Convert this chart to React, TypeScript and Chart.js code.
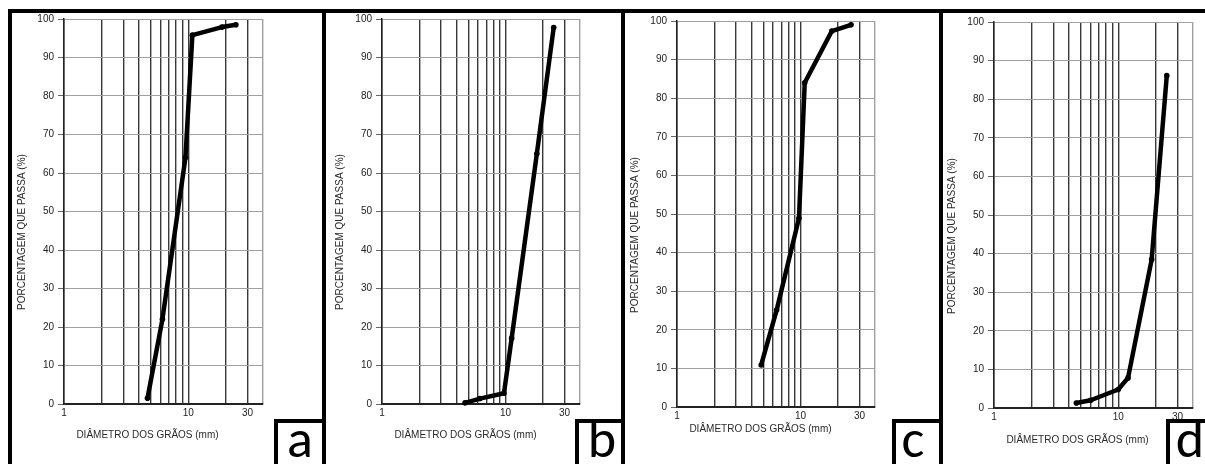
import React, { useEffect, useRef } from "react";
import { Chart, registerables } from "chart.js";

Chart.register(...registerables);

// ---- data ----
const sizesA = [4.7, 6.2, 9.5, 10.8, 18.7, 24.2];
const passA = [1.5, 22, 64, 95.8, 97.9, 98.5];
const sizesB = [4.7, 6.2, 9.7, 11.2, 17.9, 24.5];
const passB = [0.3, 1.4, 2.8, 17.1, 65, 97.8];
const sizesC = [4.8, 6.4, 9.7, 10.8, 17.9, 25.6];
const passC = [10.9, 25.1, 48.9, 84, 97.4, 99];
const sizesD = [4.6, 6.0, 10, 12, 18.6, 24.6];
const passD = [1.3, 2, 4.8, 7.8, 38.5, 86.1];

const xGridValues = [1, 2, 3, 4, 5, 6, 7, 8, 9, 10, 20, 30, 40];
const xLabelValues = [1, 10, 30];
const xMin = 1;
const xMax = 40;
const yMin = 0;
const yMax = 100;
const yStep = 10;

const yTitle = "PORCENTAGEM QUE PASSA (%)";
const xTitle = "DIÂMETRO DOS GRÃOS (mm)";
const letters = ["a", "b", "c", "d"];

// ---- layout (page coordinates) ----
const CANVAS_TOP = 9;
const CANVAS_H = 455;
const Y_AXIS_W = 40;
const X_AXIS_H = 30;

type Panel = {
  sizes: number[];
  pass: number[];
  canvasLeft: number;
  canvasRight: number;
  area: { left: number; right: number; top: number; bottom: number };
  xTitleDy: number;
  box: { left: number; right: number };
  letterX: number;
};

const panels: Panel[] = [
  {
    sizes: sizesA,
    pass: passA,
    canvasLeft: 12,
    canvasRight: 322,
    area: { left: 64, right: 263, top: 17, bottom: 404 },
    xTitleDy: 31.5,
    box: { left: 274, right: 322 },
    letterX: 300,
  },
  {
    sizes: sizesB,
    pass: passB,
    canvasLeft: 326,
    canvasRight: 621,
    area: { left: 382, right: 580, top: 18, bottom: 404 },
    xTitleDy: 31.5,
    box: { left: 575, right: 621 },
    letterX: 602,
  },
  {
    sizes: sizesC,
    pass: passC,
    canvasLeft: 625,
    canvasRight: 939,
    area: { left: 677, right: 875, top: 21, bottom: 407 },
    xTitleDy: 22,
    box: { left: 892, right: 939 },
    letterX: 913,
  },
  {
    sizes: sizesD,
    pass: passD,
    canvasLeft: 943,
    canvasRight: 1205,
    area: { left: 994, right: 1193, top: 22, bottom: 408 },
    xTitleDy: 32,
    box: { left: 1166, right: 1205 },
    letterX: 1190,
  },
];

const dividers = [322, 621, 939];

const FONT_FAMILY = '"Liberation Sans", Arial, Helvetica, sans-serif';

const axisTitlesPlugin = {
  id: "axisTitles",
  afterDraw(chart: any, _args: any, opts: any) {
    const { ctx, chartArea } = chart;
    ctx.save();
    ctx.font = `10px ${FONT_FAMILY}`;
    ctx.fillStyle = "#2a2a2a";
    ctx.textAlign = "center";
    ctx.textBaseline = "middle";
    ctx.fillText(opts.xText, chartArea.left + opts.xDx, chartArea.bottom + opts.xDy);
    ctx.translate(chartArea.left + opts.yDx, chartArea.bottom - opts.yDy);
    ctx.rotate(-Math.PI / 2);
    ctx.fillText(opts.yText, 0, 0);
    ctx.restore();
  },
};

function GrainChart({ panel }: { panel: Panel }) {
  const ref = useRef<HTMLCanvasElement | null>(null);
  const width = panel.canvasRight - panel.canvasLeft;

  useEffect(() => {
    if (!ref.current) return;
    const a = panel.area;
    const chart = new Chart(ref.current, {
      type: "scatter",
      data: {
        datasets: [
          {
            data: panel.sizes.map((s, i) => ({ x: s, y: panel.pass[i] })),
            showLine: true,
            borderColor: "#000",
            backgroundColor: "#000",
            borderWidth: 4.5,
            pointRadius: 2.8,
            pointBackgroundColor: "#000",
            pointBorderColor: "#000",
            pointBorderWidth: 0,
            tension: 0,
            clip: false as any,
            borderJoinStyle: "round",
            borderCapStyle: "round",
          } as any,
        ],
      },
      options: {
        responsive: false,
        animation: false,
        devicePixelRatio: 1,
        events: [],
        layout: {
          padding: {
            left: a.left - panel.canvasLeft - Y_AXIS_W,
            right: panel.canvasRight - a.right,
            top: a.top - CANVAS_TOP,
            bottom: CANVAS_TOP + CANVAS_H - a.bottom - X_AXIS_H,
          },
        },
        plugins: {
          legend: { display: false },
          tooltip: { enabled: false },
          axisTitles: {
            xText: xTitle,
            yText: yTitle,
            xDx: 83.5,
            xDy: panel.xTitleDy,
            yDx: -42,
            yDy: 172,
          },
        } as any,
        scales: {
          x: {
            type: "logarithmic",
            min: xMin,
            max: xMax,
            afterBuildTicks: (scale: any) => {
              scale.ticks = xGridValues.map((v) => ({ value: v }));
            },
            afterFit: (scale: any) => {
              scale.height = X_AXIS_H;
            },
            ticks: {
              autoSkip: false,
              maxRotation: 0,
              minRotation: 0,
              padding: 3,
              color: "#222",
              font: { family: FONT_FAMILY, size: 10 },
              callback: (value: any) =>
                xLabelValues.includes(Number(value)) ? String(value) : "",
            },
            grid: {
              drawTicks: false,
              color: (ctx: any) => (ctx.tick && ctx.tick.value === xMax ? "#a0a0a0" : "#383838"),
              lineWidth: 1.4,
            },
            border: { display: true, color: "#222", width: 1.5 },
          },
          y: {
            type: "linear",
            min: yMin,
            max: yMax,
            afterFit: (scale: any) => {
              scale.width = Y_AXIS_W;
            },
            ticks: {
              stepSize: yStep,
              padding: 4,
              color: "#222",
              font: { family: FONT_FAMILY, size: 10 },
            },
            grid: {
              drawTicks: true,
              tickLength: 6,
              tickColor: "#666",
              color: (ctx: any) => (ctx.tick && ctx.tick.value === yMin ? "#222" : "#a0a0a0"),
              lineWidth: 1,
            },
            border: { display: true, color: "#222", width: 1.5 },
          },
        },
      } as any,
      plugins: [axisTitlesPlugin as any],
    });
    return () => chart.destroy();
  }, [panel]);

  return (
    <canvas
      ref={ref}
      width={width}
      height={CANVAS_H}
      style={{
        position: "absolute",
        left: panel.canvasLeft,
        top: CANVAS_TOP,
        width,
        height: CANVAS_H,
      }}
    />
  );
}

const black = "#000";

export default function App() {
  return (
    <div
      style={{
        position: "absolute",
        left: 0,
        top: 0,
        width: 1205,
        height: 464,
        overflow: "hidden",
        background: "#fff",
      }}
    >
      {panels.map((p, i) => (
        <GrainChart key={i} panel={p} />
      ))}
      {/* outer frame */}
      <div style={{ position: "absolute", left: 8, top: 9, width: 1197, height: 4, background: black }} />
      <div style={{ position: "absolute", left: 8, top: 9, width: 4, height: 455, background: black }} />
      {dividers.map((x) => (
        <div key={x} style={{ position: "absolute", left: x, top: 9, width: 4, height: 455, background: black }} />
      ))}
      {/* letter boxes */}
      {panels.map((p, i) => (
        <div
          key={"box" + i}
          style={{
            position: "absolute",
            left: p.box.left,
            top: 419,
            width: p.box.right - p.box.left,
            height: 60,
            boxSizing: "border-box",
            borderLeft: "4px solid #000",
            borderTop: "4px solid #000",
            background: "#fff",
          }}
        />
      ))}
      {panels.map((p, i) => (
        <div
          key={"letter" + i}
          style={{
            position: "absolute",
            left: p.letterX - 30,
            top: 412,
            width: 60,
            textAlign: "center",
            fontFamily: "Carlito, Calibri, Lato, sans-serif",
            fontSize: 54,
            lineHeight: "54px",
            color: "#000",
          }}
        >
          {letters[i]}
        </div>
      ))}
    </div>
  );
}
